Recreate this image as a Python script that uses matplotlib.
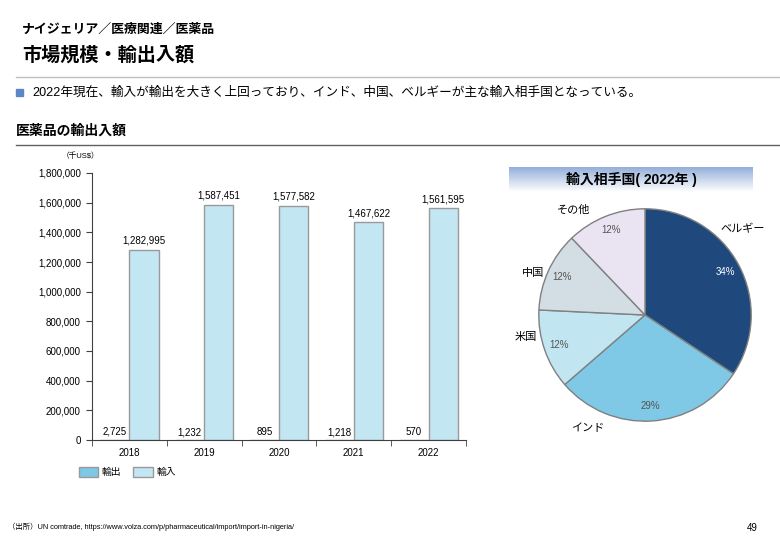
"""
    ナイジェリア 医薬品 輸出入額
"""
import numpy as np
import matplotlib
matplotlib.use('Agg')
import matplotlib.pyplot as plt
from matplotlib.lines import Line2D
from matplotlib.patches import Rectangle
from matplotlib.colors import LinearSegmentedColormap

plt.rcParams['font.family'] = ['Liberation Sans', 'Noto Sans CJK JP', 'DejaVu Sans']

# データ
years = ['2018', '2019', '2020', '2021', '2022']
exports = [2725, 1232, 895, 1218, 570]
imports = [1282995, 1587451, 1577582, 1467622, 1561595]

partners = ['ベルギー', 'インド', '米国', '中国', 'その他']
shares = [34, 29, 12, 12, 12]

W, H = 780, 540
fig = plt.figure(figsize=(W / 100, H / 100), dpi=100)

def fx(px):
    return px / W

def fy(py):
    return 1 - py / H

# ヘッダー
fig.text(fx(22), fy(30), 'ナイジェリア／医療関連／医薬品', fontsize=9.3, fontweight='bold', va='center')
fig.text(fx(22), fy(55), '市場規模・輸出入額', fontsize=13.8, fontweight='bold', va='center')
fig.add_artist(Line2D([fx(16), 1], [fy(77), fy(77)], color='#C0C0C0', lw=1))
fig.add_artist(Rectangle((fx(16), fy(96)), fx(7), 7 / H, color='#5B87C5'))
fig.text(fx(32), fy(93), '2022年現在、輸入が輸出を大きく上回っており、インド、中国、ベルギーが主な輸入相手国となっている。',
         fontsize=9.1, va='center')
fig.text(fx(16), fy(131), '医薬品の輸出入額', fontsize=10, fontweight='bold', va='center')
fig.add_artist(Line2D([fx(16), 1], [fy(145), fy(145)], color='#606060', lw=1))
fig.text(fx(62), fy(156), '（千US$）', fontsize=5.5, va='center')

# 棒グラフ
ax = fig.add_axes([fx(92), fy(440), fx(466 - 92), (440 - 173) / H])
x = np.arange(len(years))
w = 0.39
c_exp = '#7DC8E6'
c_imp = '#C3E6F3'
b1 = ax.bar(x - w / 2, exports, w, color=c_exp, edgecolor='#9A9A9A', lw=1, label='輸出')
b2 = ax.bar(x + w / 2, imports, w, color=c_imp, edgecolor='#9A9A9A', lw=1, label='輸入')
ax.bar_label(b1, labels=[f'{v:,}' for v in exports], padding=2, fontsize=7)
ax.bar_label(b2, labels=[f'{v:,}' for v in imports], padding=3, fontsize=7)

ax.set_xlim(-0.5, len(years) - 0.5)
ax.set_ylim(0, 1800000)
ax.set_yticks(np.arange(0, 1800001, 200000))
ax.set_yticklabels([f'{v:,}' for v in range(0, 1800001, 200000)], fontsize=7)
ax.set_xticks(x)
ax.set_xticklabels(years, fontsize=7)
ax.set_xticks(np.arange(-0.5, len(years)), minor=True)
ax.tick_params(axis='x', which='major', length=0, pad=6)
ax.tick_params(axis='x', which='minor', length=4, direction='out', color='#404040')
ax.tick_params(axis='y', length=4, direction='out', color='#404040', pad=4)
for s in ['top', 'right']:
    ax.spines[s].set_visible(False)
ax.spines['left'].set_color('#404040')
ax.spines['bottom'].set_color('#404040')

fig.legend(handles=[b1, b2], labels=['輸出', '輸入'], loc='upper left',
           bbox_to_anchor=(fx(70), fy(458)), ncol=2, frameon=False, fontsize=7,
           handlelength=2.0, handleheight=1.3, columnspacing=1.2, handletextpad=0.4)

# 円グラフのタイトル
tax = fig.add_axes([fx(509), fy(192), fx(753 - 509), 25 / H])
grad = np.linspace(0, 1, 50).reshape(-1, 1)
cmap = LinearSegmentedColormap.from_list('g', ['#94AFDA', '#FFFFFF'])
tax.imshow(grad, aspect='auto', cmap=cmap, extent=[0, 1, 0, 1], origin='upper')
tax.set_axis_off()
tax.text(0.5, 0.5, '輸入相手国( 2022年 )', ha='center', va='center', fontsize=10, fontweight='bold')

# 円グラフ
pax = fig.add_axes([fx(645 - 120), fy(315 + 120), fx(240), 240 / H])
pie_colors = ['#1F497D', '#7FC9E6', '#C2E5F2', '#D3DEE4', '#EAE4F2']
wedges, _, autotexts = pax.pie(shares, colors=pie_colors, startangle=90, counterclock=False,
                               autopct='%d%%', pctdistance=0.86,
                               wedgeprops=dict(edgecolor='#808080', linewidth=1),
                               textprops=dict(fontsize=7, color='#555555'))
autotexts[0].set_color('white')
for t, s in zip(autotexts, shares):
    t.set_text(f'{s}%')
pax.set_xlim(-1.13, 1.13)
pax.set_ylim(-1.13, 1.13)
pax.set_aspect('equal')

label_pos = [(0.92, 0.81), (-0.54, -1.06), (-1.12, -0.21), (-1.05, 0.40), (-0.67, 0.99)]
for name, (lx, ly) in zip(partners, label_pos):
    pax.text(lx, ly, name, ha='center', va='center', fontsize=8)

# フッター
fig.text(fx(8), fy(527), '（出所）UN comtrade, https://www.volza.com/p/pharmaceutical/import/import-in-nigeria/',
         fontsize=5.3, va='center')
fig.text(fx(752), fy(528), '49', fontsize=7, va='center', ha='center')

fig.savefig('out.png', dpi=100)
